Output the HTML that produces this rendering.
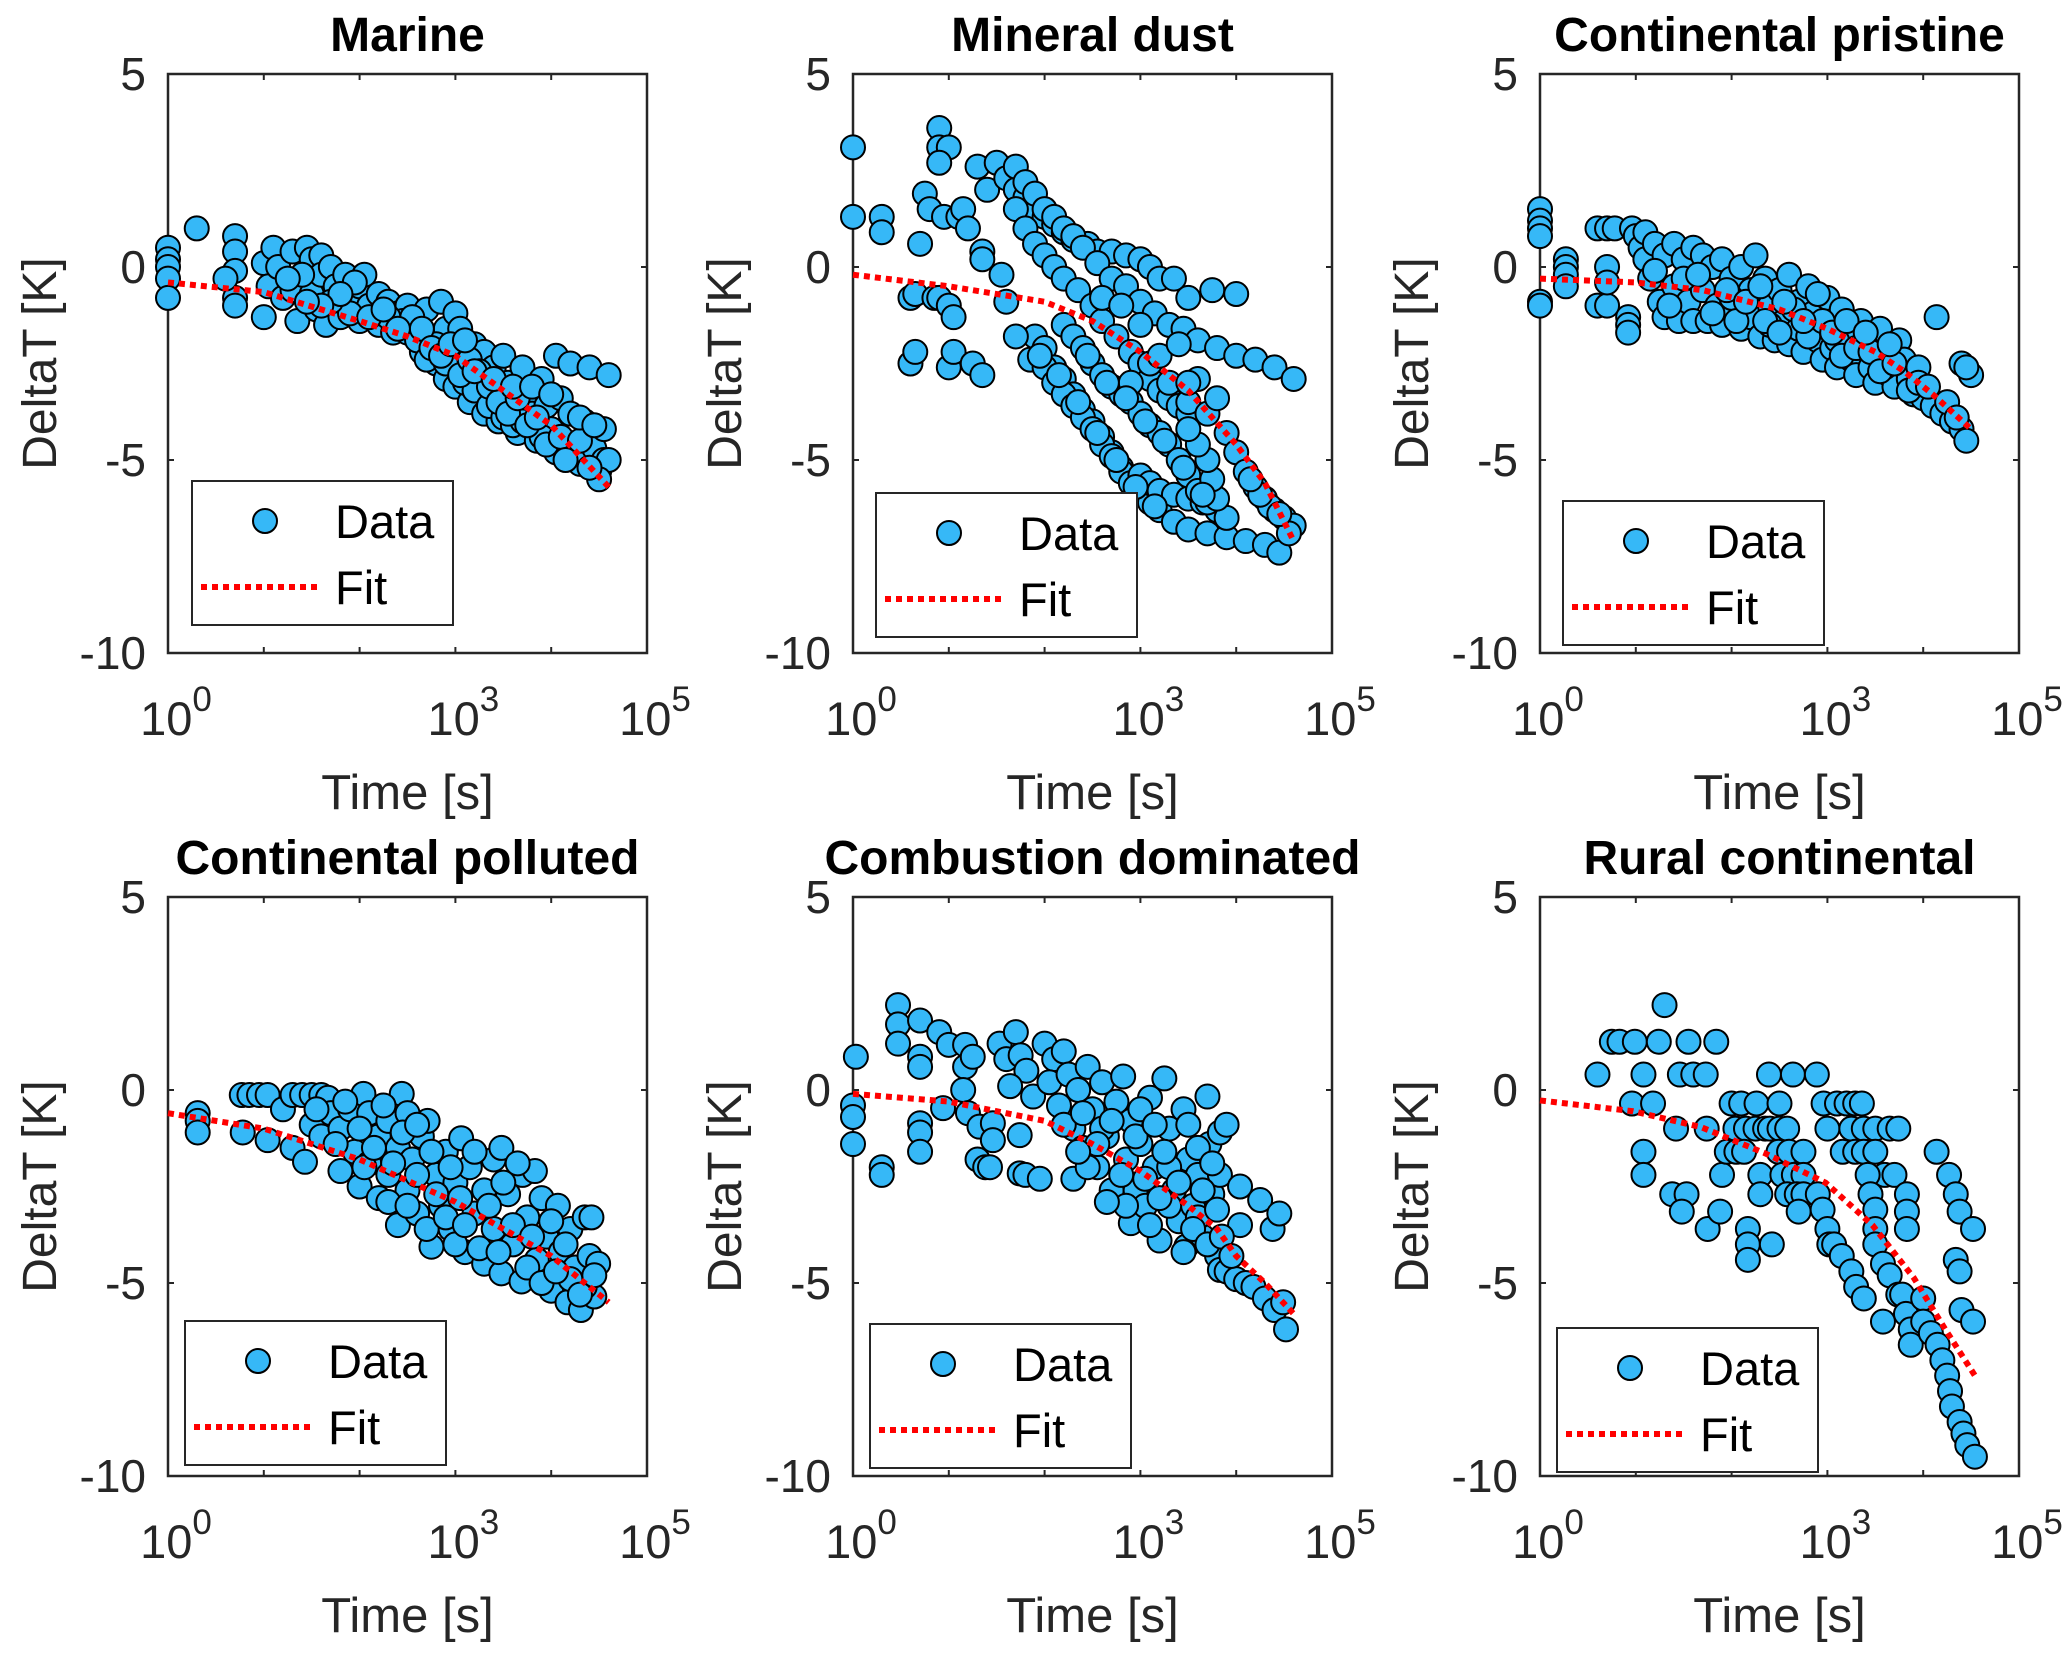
<!DOCTYPE html>
<html><head><meta charset="utf-8"><style>
html,body{margin:0;padding:0;background:#fff;}
svg{display:block;}
text{font-family:"Liberation Sans",Arial,sans-serif;}
</style></head><body>
<svg id="fig" width="2067" height="1655" viewBox="0 0 2067 1655"></svg>
<script>
// ---- data: [log10(time), DeltaT] pairs ----
const titles = ["Marine","Mineral dust","Continental pristine","Continental polluted","Combustion dominated","Rural continental"];
const xTicks = [0,1,2,3,4,5];
const xTickLabels = ["0","","","3","","5"];
const yTicks = [5,0,-5,-10];
const yTickLabels = ["5","0","-5","-10"];

const marineData = [[0,0.5],[0,0.2],[0,0],[0,-0.3],[0,-0.8],[0.3,1.0],[0.7,0.8],[0.7,0.4],[0.7,-0.1],[0.7,-0.8],[0.7,-1.0],[0.6,-0.3],[1.0,0.1],[1.0,-1.3],[1.05,-0.5],[1.1,0.5],[1.15,0],[1.2,-0.8],[1.3,0.4],[1.3,-0.6],[1.35,-1.4],[1.45,0.5],[1.5,0.2],[1.5,-0.7],[1.55,-1.1],[1.6,0.3],[1.6,-0.2],[1.65,-1.5],[1.7,0],[1.75,-0.5],[1.8,-1.3],[1.85,-0.2],[1.9,-0.8],[2.0,-0.5],[2.0,-1.4],[2.05,-0.2],[2.1,-1.0],[2.2,-0.7],[2.2,-1.5],[2.3,-0.9],[2.35,-1.7],[2.4,-1.2],[2.5,-1.0],[2.5,-1.7],[2.6,-1.4],[2.65,-2.2],[2.7,-1.1],[2.75,-1.8],[2.8,-2.5],[2.85,-0.9],[2.9,-1.6],[2.9,-2.9],[3.0,-1.2],[3.0,-2.2],[3.0,-3.1],[3.05,-1.6],[3.1,-2.6],[3.15,-3.5],[3.2,-2.0],[3.25,-3.0],[3.3,-3.8],[3.3,-2.2],[3.4,-2.6],[3.4,-3.3],[3.45,-4.0],[3.5,-2.3],[3.55,-3.0],[3.6,-3.6],[3.65,-4.3],[3.7,-2.6],[3.75,-3.3],[3.8,-3.8],[3.85,-4.5],[3.9,-2.9],[3.95,-3.6],[4.0,-4.2],[4.05,-4.8],[4.05,-2.3],[4.1,-3.4],[4.2,-2.5],[4.2,-3.8],[4.25,-4.6],[4.3,-5.1],[4.35,-4.0],[4.4,-2.6],[4.45,-4.7],[4.5,-5.3],[4.55,-4.2],[4.55,-5.0],[4.6,-2.8],[4.6,-5.0],[4.5,-5.5],[2.6,-1.9],[2.7,-2.4],[2.8,-2.0],[2.9,-2.5],[3.1,-3.0],[3.2,-3.2],[3.35,-3.6],[3.5,-3.9],[3.6,-4.1],[3.7,-4.0],[3.9,-4.4],[2.45,-1.4],[2.3,-1.3],[1.9,-1.2],[1.7,-0.9],[1.4,-0.2],[1.25,-0.3],
[2.55,-1.3],[2.65,-1.6],[2.75,-2.1],[2.85,-2.3],[2.95,-2.0],[3.05,-2.8],[3.15,-2.4],[3.25,-2.7],[3.35,-3.1],[3.45,-3.5],[3.55,-3.8],[3.65,-3.4],[3.75,-4.1],[3.85,-3.9],[3.95,-4.6],[4.1,-4.4],[4.15,-5.0],[4.3,-4.5],[4.4,-5.2],[3.1,-1.9],[3.2,-2.7],[3.4,-2.9],[3.6,-3.1],[3.8,-3.1],[4.0,-3.3],[4.3,-3.9],[4.45,-4.1],[2.1,-1.3],[2.25,-1.1],[2.4,-1.6],[1.95,-0.4],[1.8,-0.7],[1.6,-1.0],[1.45,-0.9]];
const marineFit = [[0,-0.4],[1,-0.65],[2,-1.4],[2.5,-1.8],[3,-2.3],[3.5,-3.2],[4,-4.1],[4.6,-5.7]];

const dustData = [[0,3.1],[0,1.3],[0.3,1.3],[0.3,0.9],[0.7,0.6],[0.6,-0.8],[0.65,-0.7],[0.6,-2.5],[0.65,-2.2],[0.9,3.6],[0.9,3.1],[1.0,3.1],[0.9,2.7],[0.85,-0.8],[0.9,-0.8],[1.0,-1.0],[1.05,-1.3],[1.0,-2.6],[1.05,-2.2],[1.25,-2.5],[1.35,-2.8],[0.75,1.9],[0.8,1.5],[0.95,1.3],[1.1,1.3],[1.15,1.5],[1.2,1.0],[1.3,2.6],[1.4,2.0],[1.35,0.4],[1.35,0.2],[1.55,-0.2],[1.6,-0.9],
[1.5,2.7],[1.6,2.3],[1.7,2.0],[1.8,1.8],[1.9,1.5],[2.0,1.3],[2.1,1.1],[2.2,0.9],[2.3,0.7],[2.45,0.6],[2.55,0.4],[2.7,0.4],[2.85,0.3],[3.0,0.2],[3.1,0.0],[3.2,-0.3],[3.35,-0.3],[3.5,-0.8],[3.75,-0.6],[4.0,-0.7],
[1.7,2.6],[1.8,2.2],[1.9,1.9],[2.0,1.5],[2.1,1.3],[2.2,1.0],[2.3,0.8],[2.4,0.5],[2.55,0.1],[2.7,-0.3],[2.85,-0.5],[3.0,-0.9],[3.15,-1.2],[3.3,-1.5],[3.45,-1.6],[3.6,-1.9],[3.8,-2.1],[4.0,-2.3],[4.2,-2.4],[4.4,-2.6],[4.6,-2.9],
[1.7,1.5],[1.8,1.0],[1.9,0.6],[2.0,0.3],[2.1,0.0],[2.2,-0.3],[2.35,-0.6],[2.5,-1.0],[2.6,-1.4],[2.75,-1.8],[2.9,-2.2],[3.0,-2.5],[3.1,-2.9],[3.2,-3.2],[3.3,-3.4],[3.4,-3.6],[3.5,-3.8],
[1.9,-1.8],[2.0,-2.1],[2.1,-2.6],[2.2,-2.9],[2.3,-3.3],[2.4,-3.7],[2.5,-4.0],[2.6,-4.4],[2.7,-4.8],[2.8,-5.2],[2.9,-5.5],[3.0,-5.8],[3.1,-6.1],[3.2,-6.3],[3.35,-6.6],[3.5,-6.8],[3.7,-6.9],[3.9,-7.0],[4.1,-7.1],[4.3,-7.2],[4.45,-7.4],
[1.7,-1.8],[1.85,-2.4],[2.0,-2.6],[2.1,-3.0],[2.2,-3.3],[2.3,-3.6],[2.4,-3.9],[2.5,-4.2],[2.6,-4.6],[2.7,-4.9],[2.8,-5.3],[2.9,-5.6],[3.0,-5.4],[3.1,-5.6],[3.2,-5.8],[3.35,-5.9],[3.5,-6.0],[3.65,-6.1],[3.8,-6.3],[3.9,-6.5],
[2.2,-1.5],[2.3,-1.8],[2.4,-2.1],[2.5,-2.5],[2.6,-2.8],[2.7,-3.1],[2.8,-3.3],[2.9,-3.5],[3.0,-3.8],[3.1,-4.1],[3.2,-4.3],[3.3,-4.6],[3.4,-5.0],[3.5,-5.4],[3.6,-5.8],[3.7,-6.1],[3.8,-6.0],[3.75,-5.5],[3.7,-5.0],[3.6,-4.6],[3.5,-4.2],
[3.1,-2.5],[3.3,-3.0],[3.5,-3.5],[3.7,-3.8],[3.9,-4.3],[4.0,-4.8],[4.1,-5.3],[4.2,-5.7],[4.3,-6.0],[4.4,-6.3],[4.5,-6.5],[4.6,-6.7],[4.55,-6.9],
[2.6,-0.8],[2.8,-1.0],[3.0,-1.5],[2.9,-3.0],[3.2,-2.3],[3.4,-2.0],[3.6,-2.9],[3.8,-3.4],[3.5,-3.0],
[1.95,-2.3],[2.15,-2.8],[2.35,-3.5],[2.55,-4.3],[2.75,-5.0],[2.95,-5.7],[3.15,-6.2],[2.45,-2.3],[2.65,-3.0],[2.85,-3.4],[3.05,-4.0],[3.25,-4.5],[3.45,-5.2],[3.65,-5.9],[4.35,-6.2],[4.45,-6.4],[4.25,-5.9],[4.15,-5.5]];
const dustFit = [[0,-0.2],[1,-0.5],[2,-0.9],[2.5,-1.4],[3,-2.2],[3.5,-3.2],[4,-4.6],[4.3,-5.6],[4.6,-7.1]];

const pristineData = [[0,1.5],[0,1.2],[0,1.0],[0,0.8],[0,-0.9],[0,-1.0],[0.27,0.2],[0.27,0],[0.27,-0.2],[0.27,-0.5],[0.6,1.0],[0.7,1.0],[0.78,1.0],[0.6,-1.0],[0.7,-1.0],[0.7,0.0],[0.7,-0.4],[0.92,-1.3],[0.92,-1.5],[0.92,-1.7],[0.96,1.0],[1.0,0.8],[1.05,0.5],[1.1,0.9],[1.1,0.2],[1.15,-0.3],[1.2,0.6],[1.25,-0.9],[1.3,0.3],[1.3,-1.3],[1.4,0.6],[1.4,-0.5],[1.45,-1.4],[1.5,0.2],[1.55,-0.9],[1.6,0.5],[1.6,-1.4],[1.7,0.3],[1.7,-0.6],[1.75,-1.4],[1.8,0.0],[1.85,-1.0],[1.9,0.2],[1.9,-1.5],[2.0,-0.3],[2.0,-1.1],[2.1,0.0],[2.1,-1.6],[2.2,-0.6],[2.2,-1.3],[2.25,0.3],[2.3,-1.8],[2.35,-0.3],[2.4,-1.0],[2.45,-1.9],[2.5,-0.6],[2.55,-1.4],[2.6,-2.0],[2.6,-0.2],[2.7,-0.9],[2.7,-1.6],[2.75,-2.2],[2.8,-0.5],[2.85,-1.2],[2.9,-1.9],[2.95,-2.4],[3.0,-0.8],[3.0,-1.5],[3.05,-2.1],[3.1,-2.6],[3.15,-1.1],[3.2,-1.8],[3.25,-2.4],[3.3,-2.8],[3.35,-1.4],[3.4,-2.0],[3.45,-2.6],[3.5,-3.0],[3.55,-1.6],[3.6,-2.2],[3.65,-2.8],[3.7,-3.1],[3.75,-1.9],[3.8,-2.4],[3.85,-2.9],[3.9,-3.3],[3.95,-2.6],[4.0,-3.4],[4.1,-3.6],[4.14,-1.3],[4.2,-3.8],[4.3,-4.0],[4.4,-4.2],[4.45,-4.5],[4.4,-2.5],[4.5,-2.8],[4.45,-2.6],[2.4,-1.5],[2.0,-0.8],[1.5,-0.3],[3.1,-1.9],[3.6,-2.6],
[1.2,-0.1],[1.35,-1.0],[1.65,-0.2],[1.8,-1.2],[1.95,-0.6],[2.05,-1.4],[2.15,-0.9],[2.3,-0.5],[2.35,-1.4],[2.5,-1.7],[2.65,-1.1],[2.8,-1.8],[2.9,-0.7],[2.95,-1.4],[3.05,-1.7],[3.15,-2.3],[3.3,-2.1],[3.45,-2.2],[3.55,-2.7],[3.7,-2.5],[3.85,-3.2],[3.95,-3.0],[4.05,-3.1],[4.25,-3.5],[4.35,-3.9],[3.2,-1.4],[3.4,-1.7],[3.65,-2.0],[2.55,-0.9],[2.75,-1.4]];
const pristineFit = [[0,-0.3],[1,-0.4],[1.7,-0.6],[2.5,-1.1],[3,-1.6],[3.5,-2.2],[3.8,-2.7],[4.1,-3.3],[4.5,-4.2]];

const pollutedData = [[0.31,-0.6],[0.31,-0.8],[0.31,-1.1],[0.77,-0.13],[0.85,-0.13],[0.95,-0.13],[1.04,-0.13],[0.78,-1.1],[1.04,-1.3],[1.2,-0.5],[1.3,-0.13],[1.4,-0.13],[1.5,-0.13],[1.6,-0.13],[1.67,-0.2],[1.3,-1.5],[1.43,-1.86],[1.5,-0.9],[1.6,-1.2],[1.7,-0.6],[1.8,-2.1],[1.8,-1.0],[1.9,-0.5],[1.95,-1.6],[2.0,-2.5],[2.04,-0.1],[2.1,-0.6],[2.1,-1.9],[2.2,-1.2],[2.2,-2.8],[2.3,-0.8],[2.3,-2.2],[2.4,-1.5],[2.4,-3.5],[2.44,-0.1],[2.5,-0.6],[2.5,-2.6],[2.55,-1.8],[2.6,-3.2],[2.65,-1.2],[2.71,-0.8],[2.75,-4.06],[2.8,-2.2],[2.85,-3.0],[2.9,-1.6],[2.95,-3.6],[3.0,-2.4],[3.06,-1.25],[3.1,-4.2],[3.15,-2.0],[3.2,-3.2],[3.3,-2.6],[3.3,-4.5],[3.4,-1.8],[3.4,-3.6],[3.48,-1.5],[3.48,-4.75],[3.55,-2.7],[3.6,-4.0],[3.69,-4.96],[3.7,-2.2],[3.75,-3.3],[3.83,-2.1],[3.85,-4.4],[3.9,-2.8],[3.95,-3.8],[4.0,-5.2],[4.07,-3.0],[4.1,-4.2],[4.17,-5.5],[4.2,-3.6],[4.25,-4.6],[4.31,-5.7],[4.35,-3.3],[4.42,-3.3],[4.4,-4.3],[4.45,-5.35],[4.49,-4.5],[4.35,-5.1],[4.2,-4.9],
[1.55,-0.5],[1.75,-1.4],[1.85,-0.3],[2.0,-1.0],[2.05,-2.0],[2.15,-1.5],[2.25,-0.4],[2.3,-2.9],[2.35,-1.9],[2.45,-1.1],[2.5,-3.0],[2.6,-2.2],[2.6,-0.9],[2.7,-3.6],[2.75,-1.6],[2.8,-2.7],[2.9,-3.3],[2.95,-2.0],[3.0,-4.0],[3.05,-2.8],[3.1,-3.5],[3.2,-1.6],[3.25,-4.1],[3.35,-3.0],[3.45,-4.2],[3.5,-2.4],[3.6,-3.5],[3.65,-1.9],[3.75,-4.6],[3.8,-3.8],[3.9,-5.0],[4.0,-3.4],[4.05,-4.7],[4.15,-4.0],[4.3,-5.3],[4.45,-4.8]];
const pollutedFit = [[0,-0.6],[1,-1.0],[2,-1.8],[3,-2.9],[4,-4.3],[4.6,-5.5]];

const combustionData = [[0.03,0.86],[0,-0.4],[0,-0.7],[0,-1.4],[0.3,-2.0],[0.3,-2.2],[0.47,2.2],[0.47,1.7],[0.47,1.2],[0.7,1.8],[0.7,0.86],[0.7,0.6],[0.7,-0.86],[0.7,-1.1],[0.7,-1.6],[0.9,1.5],[1.0,1.17],[1.17,1.17],[1.17,0.6],[1.25,0.86],[0.94,-0.47],[1.15,0],[1.2,-0.6],[1.32,-0.95],[1.3,-1.8],[1.38,-2.0],[1.43,-2.0],[1.46,-0.86],[1.46,-1.3],[1.53,1.2],[1.6,0.8],[1.7,1.5],[1.75,0.9],[1.81,0.5],[1.64,0.1],[1.88,-0.17],[1.74,-1.17],[1.74,-2.16],[1.8,-2.2],[1.95,-2.3],
[2.0,1.2],[2.1,0.8],[2.2,1.0],[2.05,0.2],[2.15,-0.4],[2.25,0.4],[2.3,-1.0],[2.3,-2.3],[2.35,0.0],[2.4,-1.5],[2.45,0.6],[2.5,-0.5],[2.55,-2.0],[2.6,0.2],[2.65,-1.2],[2.7,-2.6],[2.75,-0.3],[2.82,0.35],[2.85,-1.8],[2.9,-3.45],[2.9,-0.8],[2.95,-2.6],[3.0,-1.4],[3.05,-3.0],[3.1,-0.2],[3.15,-2.0],[3.2,-3.9],[3.25,0.3],[3.3,-1.0],[3.35,-2.6],[3.4,-3.4],[3.45,-0.5],[3.5,-1.8],[3.48,-4.05],[3.55,-3.0],[3.6,-2.2],[3.65,-3.8],[3.7,-0.17],[3.72,-1.4],[3.75,-2.7],[3.8,-4.3],[3.83,-1.1],[3.83,-2.2],[3.83,-4.66],[3.9,-4.7],[4.0,-4.9],[4.04,-2.5],[4.04,-3.5],[4.1,-5.0],[4.18,-5.1],[4.25,-2.85],[4.3,-5.4],[4.38,-3.6],[4.4,-5.7],[4.45,-3.2],[4.49,-5.5],[4.52,-6.2],[2.6,-1.0],[3.0,-0.5],[3.3,-2.0],[3.6,-3.3],
[2.2,-0.9],[2.4,-0.6],[2.45,-2.0],[2.55,-1.4],[2.7,-0.8],[2.8,-2.2],[2.85,-3.0],[2.95,-1.2],[3.05,-2.3],[3.1,-3.5],[3.15,-0.9],[3.25,-1.6],[3.3,-3.0],[3.4,-2.4],[3.5,-0.9],[3.55,-3.6],[3.6,-1.5],[3.65,-2.6],[3.7,-4.0],[3.75,-1.9],[3.8,-3.1],[3.85,-3.8],[3.9,-0.9],[3.95,-4.3],[2.35,-1.6],[2.65,-2.9],[3.2,-2.8],[3.45,-4.2]];
const combustionFit = [[0,-0.1],[1,-0.3],[2,-0.8],[2.5,-1.4],[3,-2.1],[3.5,-3.0],[3.8,-3.6],[4.0,-4.3],[4.3,-5.0],[4.6,-5.8]];

const ruralData = [[0.6,0.4],[0.75,1.25],[0.83,1.25],[0.99,1.25],[1.24,1.25],[1.3,2.2],[1.55,1.25],[1.84,1.25],[1.08,0.4],[1.46,0.4],[1.6,0.4],[1.73,0.4],[0.96,-0.35],[1.18,-0.35],[1.08,-1.6],[1.08,-2.2],[1.42,-1.0],[1.74,-1.0],[1.38,-2.7],[1.53,-2.7],[1.48,-3.15],[1.75,-3.6],[1.88,-3.15],[1.9,-2.2],[2.17,-3.6],[2.17,-4.0],[2.17,-4.4],[2.42,-4.0],[2.0,-0.35],[2.1,-0.35],[2.26,-0.35],[2.04,-1.0],[2.15,-1.0],[2.25,-1.0],[2.35,-1.0],[1.95,-1.6],[2.05,-1.6],[2.13,-1.6],[2.3,-2.2],[2.3,-2.7],[2.39,0.4],[2.64,0.4],[2.89,0.4],[2.5,-0.35],[2.4,-1.0],[2.5,-1.0],[2.58,-1.0],[2.49,-1.6],[2.6,-1.6],[2.75,-1.6],[2.53,-2.2],[2.65,-2.2],[2.75,-2.2],[2.58,-2.7],[2.68,-2.7],[2.75,-2.7],[2.7,-3.15],[2.96,-0.35],[3.0,-1.0],[2.9,-2.7],[2.95,-3.1],[3.0,-3.6],[3.02,-4.0],[3.07,-4.0],[3.15,-4.3],[3.25,-4.7],[3.3,-5.1],[3.38,-5.4],[3.1,-0.35],[3.2,-0.35],[3.29,-0.35],[3.36,-0.35],[3.25,-1.0],[3.16,-1.6],[3.29,-1.6],[3.38,-1.0],[3.5,-1.0],[3.65,-1.0],[3.38,-1.6],[3.5,-1.6],[3.6,-2.2],[3.7,-2.2],[3.42,-2.2],[3.45,-2.7],[3.5,-3.1],[3.5,-3.6],[3.5,-4.0],[3.58,-4.5],[3.65,-4.8],[3.74,-5.3],[3.58,-6.0],[3.74,-1.0],[3.83,-2.7],[3.83,-3.15],[3.83,-3.6],[3.78,-5.3],[3.82,-5.8],[3.87,-6.2],[3.87,-6.6],[4.0,-5.4],[4.0,-6.0],[4.08,-6.3],[4.15,-6.6],[4.2,-7.0],[4.25,-7.4],[4.28,-7.8],[4.3,-8.2],[4.38,-8.6],[4.42,-8.9],[4.46,-9.2],[4.54,-9.5],[4.14,-1.6],[4.27,-2.2],[4.34,-2.7],[4.38,-3.15],[4.52,-3.6],[4.34,-4.4],[4.38,-4.7],[4.4,-5.7],[4.52,-6.0]];
const ruralFit = [[0,-0.27],[0.97,-0.55],[1.68,-0.96],[2.35,-1.64],[2.98,-2.4],[3.47,-3.5],[3.9,-4.86],[4.23,-6.2],[4.54,-7.4]];

const panelData = [marineData,dustData,pristineData,pollutedData,combustionData,ruralData];
const panelFit = [marineFit,dustFit,pristineFit,pollutedFit,combustionFit,ruralFit];
const legendOffsets = [[24,407],[23,419],[23,427],[17,424],[17,427],[17,431]];

const NS = "http://www.w3.org/2000/svg";
const svg = document.getElementById('fig');
const colLeft = [168,853,1540], rowTop = [74,897];
const W = 479, H = 579;
function mk(tag, attrs, parent){ const e=document.createElementNS(NS,tag); for(const k in attrs) e.setAttribute(k,attrs[k]); (parent||svg).appendChild(e); return e; }

for(let p=0;p<6;p++){
  const L = colLeft[p%3], T = rowTop[Math.floor(p/3)];
  const sx = v => L + v/5*W;
  const sy = v => T + (5 - v)/15*H;
  const g = mk('g',{});
  
  
  const t = mk('text',{x:L+W/2,y:T-23,'text-anchor':'middle','font-size':'48','font-weight':'bold',fill:'#000'},g);
  t.textContent = titles[p];
  
  
  xTicks.forEach((v,i)=>{
    const x = sx(v);
    mk('line',{x1:x,y1:T+H,x2:x,y2:T+H-6,stroke:'#262626','stroke-width':2},g);
    mk('line',{x1:x,y1:T,x2:x,y2:T+6,stroke:'#262626','stroke-width':2},g);
    if(xTickLabels[i]!==""){
      const tx = mk('text',{x:x+8,y:T+H+82,'text-anchor':'middle','font-size':'47',fill:'#262626'},g);
      tx.textContent = '10';
      const sup = mk('tspan',{dy:'-24','font-size':'35'},tx);
      sup.textContent = xTickLabels[i];
      
      
    }
  });
  yTicks.forEach((v,i)=>{
    const y = sy(v);
    mk('line',{x1:L,y1:y,x2:L+6,y2:y,stroke:'#262626','stroke-width':2},g);
    mk('line',{x1:L+W,y1:y,x2:L+W-6,y2:y,stroke:'#262626','stroke-width':2},g);
    const ty = mk('text',{x:L-22,y:y+16,'text-anchor':'end','font-size':'46',fill:'#262626'},g);
    ty.textContent = yTickLabels[i];
    
    
  });
  const box = mk('rect',{x:L,y:T,width:W,height:H,fill:'none',stroke:'#262626','stroke-width':2.5},g);
  
  
  const xl = mk('text',{x:L+W/2,y:T+H+156,'text-anchor':'middle','font-size':'49',fill:'#262626'},g);
  xl.textContent = 'Time [s]';
  
  
  const yl = mk('text',{x:0,y:0,'text-anchor':'middle','font-size':'48',fill:'#262626',transform:`translate(${L-112},${T+H/2}) rotate(-90)`},g);
  yl.textContent = 'DeltaT [K]';
  
  
  panelData[p].forEach(d=>{
    const c = mk('circle',{cx:sx(d[0]),cy:sy(d[1]),r:12,fill:'#36B8F7',stroke:'#000','stroke-width':2},g);
    
    
  });
  const pts = panelFit[p].map(d=>sx(d[0])+','+sy(d[1])).join(' ');
  const fl = mk('polyline',{points:pts,fill:'none',stroke:'#FF0000','stroke-width':6,'stroke-dasharray':'6 5'},g);
  
  
  const lx = L+legendOffsets[p][0], ly = T+legendOffsets[p][1];
  const lg = mk('g',{},g);
  
  
  mk('rect',{x:lx,y:ly,width:261,height:144,fill:'#fff',stroke:'#262626','stroke-width':2},lg);
  mk('circle',{cx:lx+73,cy:ly+40,r:12,fill:'#36B8F7',stroke:'#000','stroke-width':2},lg);
  const ld = mk('text',{x:lx+143,y:ly+57,'font-size':'47',fill:'#000'},lg);
  ld.textContent = 'Data';
  
  
  mk('line',{x1:lx+9,y1:ly+106,x2:lx+129,y2:ly+106,stroke:'#FF0000','stroke-width':6,'stroke-dasharray':'6 5'},lg);
  const lf = mk('text',{x:lx+143,y:ly+123,'font-size':'47',fill:'#000'},lg);
  lf.textContent = 'Fit';
  
  
}
</script>
</body></html>
